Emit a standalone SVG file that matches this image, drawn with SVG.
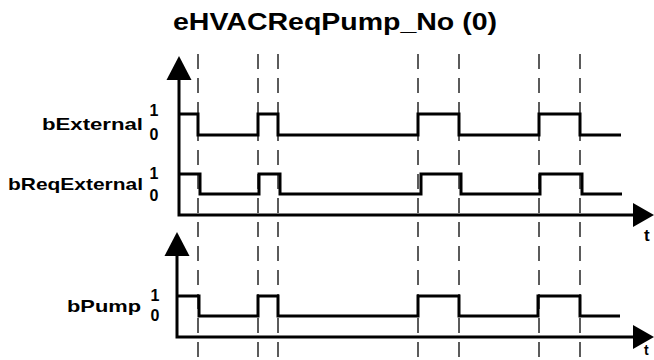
<svg xmlns="http://www.w3.org/2000/svg" width="654" height="360" viewBox="0 0 654 360">
<style>
.lbl{font-family:"Liberation Sans",Arial,sans-serif;font-weight:bold;fill:#000}
.sig{fill:none;stroke:#000;stroke-width:3;stroke-linejoin:miter}
.axis{fill:none;stroke:#000;stroke-width:3}
.dash{stroke:#333;stroke-width:1.6;stroke-dasharray:15 9}
</style>
<rect width="654" height="360" fill="#fff"/>
<text class="lbl" x="173" y="30" font-size="23" textLength="324" lengthAdjust="spacingAndGlyphs">eHVACReqPump_No (0)</text>
<g id="gridlines">
<line class="dash" x1="198" y1="54" x2="198" y2="360"/>
<line class="dash" x1="258" y1="54" x2="258" y2="360"/>
<line class="dash" x1="278" y1="54" x2="278" y2="360"/>
<line class="dash" x1="418" y1="54" x2="418" y2="360"/>
<line class="dash" x1="459" y1="54" x2="459" y2="360"/>
<line class="dash" x1="539" y1="54" x2="539" y2="360"/>
<line class="dash" x1="580" y1="54" x2="580" y2="360"/>
</g>
<g id="axes-top">
<path class="axis" d="M179,80 V215 H634"/>
<polygon points="179,56 166.5,80 191.5,80" fill="#000"/>
<polygon points="654,215 633,203 633,227" fill="#000"/>
<text class="lbl" x="644" y="241" font-size="17">t</text>
</g>
<g id="axes-bottom">
<path class="axis" d="M177,256 V337 H634"/>
<polygon points="177,232 164.5,256 189.5,256" fill="#000"/>
<polygon points="654,337 633,325 633,349" fill="#000"/>
<text class="lbl" x="644" y="355" font-size="14">t</text>
</g>
<g id="bExternal">
<text class="lbl" x="143" y="130" font-size="17" text-anchor="end" textLength="101" lengthAdjust="spacingAndGlyphs">bExternal</text>
<text class="lbl" x="154" y="116" font-size="16" text-anchor="middle">1</text>
<text class="lbl" x="154" y="140" font-size="16" text-anchor="middle">0</text>
<path class="sig" d="M179,114 H198 V135 H258 V114 H278 V135 H418 V114 H459 V135 H539 V114 H580 V135 H621"/>
</g>
<g id="bReqExternal">
<text class="lbl" x="143" y="190" font-size="17" text-anchor="end" textLength="135" lengthAdjust="spacingAndGlyphs">bReqExternal</text>
<text class="lbl" x="154" y="179" font-size="16" text-anchor="middle">1</text>
<text class="lbl" x="154" y="201" font-size="16" text-anchor="middle">0</text>
<path class="sig" d="M179,174 H200 V194 H259 V174 H280 V194 H421 V174 H461 V194 H540 V174 H582 V194 H622"/>
</g>
<g id="bPump">
<text class="lbl" x="141" y="312" font-size="17" text-anchor="end" textLength="74" lengthAdjust="spacingAndGlyphs">bPump</text>
<text class="lbl" x="155" y="301" font-size="16" text-anchor="middle">1</text>
<text class="lbl" x="155" y="321" font-size="16" text-anchor="middle">0</text>
<path class="sig" d="M177,296 H199 V316 H258 V296 H278 V316 H418 V296 H459 V316 H538 V296 H580 V316 H620"/>
</g>
</svg>
